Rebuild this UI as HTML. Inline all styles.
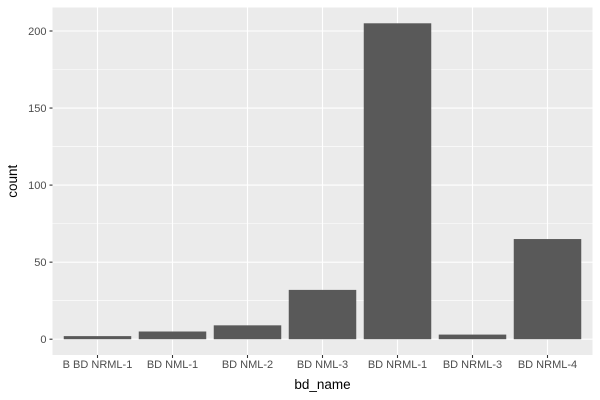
<!DOCTYPE html>
<html><head><meta charset="utf-8"><style>
body{margin:0;background:#fff;}
svg{display:block;font-family:"Liberation Sans",Arial,sans-serif;}
</style></head><body>
<svg id="chart" width="600" height="400"></svg>
<script>
const categories=["B BD NRML-1","BD NML-1","BD NML-2","BD NML-3","BD NRML-1","BD NRML-3","BD NRML-4"];
const counts=[2,5,9,32,205,3,65];
const yTicks=[0,50,100,150,200];
const NS="http://www.w3.org/2000/svg";
const svg=document.getElementById('chart');
const L=52.5,R=592.5,T=7.5,B=355;
const maxV=Math.max(...counts);
const lo=-maxV*0.05,hi=maxV*1.05;
const y=v=>B-(v-lo)/(hi-lo)*(B-T);
const step=(R-L)/(categories.length+0.2);
const x=i=>L+step*(0.6+i);
function el(t,a,p){const e=document.createElementNS(NS,t);for(const k in a)e.setAttribute(k,a[k]);(p||svg).appendChild(e);return e;}
const bg=el('rect',{x:L,y:T,width:R-L,height:B-T,fill:'#ebebeb'});


for(let i=0;i<yTicks.length-1;i++){const m=(yTicks[i]+yTicks[i+1])/2;el('line',{x1:L,x2:R,y1:y(m),y2:y(m),stroke:'#fff','stroke-width':0.55});}
yTicks.forEach(t=>{
el('line',{x1:L,x2:R,y1:y(t),y2:y(t),stroke:'#fff','stroke-width':1.1});
el('line',{x1:L-3,x2:L,y1:y(t),y2:y(t),stroke:'#333','stroke-width':1.1});
const tx=el('text',{x:L-6,y:y(t)+4,'text-anchor':'end','font-size':11,fill:'#4d4d4d'});tx.textContent=t;


});
categories.forEach((c,i)=>{
el('line',{x1:x(i),x2:x(i),y1:T,y2:B,stroke:'#fff','stroke-width':1.1});
});
categories.forEach((c,i)=>{
const w=step*0.9;
const b=el('rect',{x:x(i)-w/2,y:y(counts[i]),width:w,height:y(0)-y(counts[i]),fill:'#595959'});


el('line',{x1:x(i),x2:x(i),y1:B,y2:B+3,stroke:'#333','stroke-width':1.1});
const tx=el('text',{x:x(i),y:B+13,'text-anchor':'middle','font-size':11,fill:'#4d4d4d'});tx.textContent=c;


});
const xt=el('text',{x:(L+R)/2,y:389,'text-anchor':'middle','font-size':13.5,fill:'#000'});xt.textContent='bd_name';


const yt=el('text',{x:0,y:0,transform:`translate(17,${(T+B)/2}) rotate(-90)`,'text-anchor':'middle','font-size':13.5,fill:'#000'});yt.textContent='count';


</script>
</body></html>
